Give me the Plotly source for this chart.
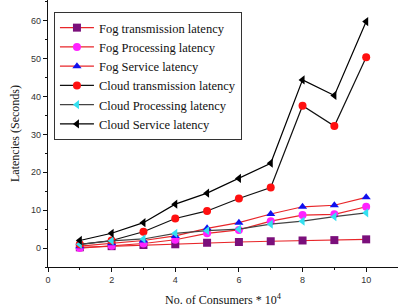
import plotly.graph_objects as go

consumers = [1, 2, 3, 4, 5, 6, 7, 8, 9, 10]
fog_transmission = [0.2, 0.5, 0.8, 1.0, 1.4, 1.6, 1.8, 2.0, 2.1, 2.3]
fog_processing = [0.0, 0.6, 1.2, 2.2, 3.9, 4.8, 7.1, 8.7, 8.9, 10.9]
fog_service = [0.5, 1.3, 2.0, 3.2, 5.2, 6.7, 9.0, 10.9, 11.3, 13.4]
cloud_transmission = [1.0, 2.0, 4.3, 7.8, 9.8, 13.1, 16.0, 37.6, 32.2, 50.4]
cloud_processing = [1.0, 1.9, 2.4, 3.9, 4.6, 5.0, 6.3, 7.1, 8.3, 9.3]
cloud_service = [2.0, 3.9, 6.7, 11.6, 14.5, 18.4, 22.4, 44.4, 40.3, 59.8]

series = [
    ("Fog transmission latency", fog_transmission, "#e8262a", "#7b0f7b", "square"),
    ("Fog Processing latency", fog_processing, "#e8262a", "#ff22ff", "circle"),
    ("Fog Service latency", fog_service, "#e8262a", "#1010ee", "triangle-up"),
    ("Cloud transmission latency", cloud_transmission, "#111111", "#ff1010", "circle"),
    ("Cloud Processing latency", cloud_processing, "#444444", "#33e0f0", "triangle-left"),
    ("Cloud Service latency", cloud_service, "#000000", "#000000", "triangle-left"),
]

fig = go.Figure()
for name, ys, lc, mc, sym in series:
    fig.add_trace(go.Scatter(
        x=consumers, y=ys, name=name, mode="lines+markers",
        line=dict(color=lc, width=1.2),
        marker=dict(symbol=sym, size=8, color=mc, line=dict(width=0)),
    ))

tickfont = dict(family="Liberation Sans, Arial", size=9, color="#333333")
fig.update_layout(
    width=398, height=308,
    margin=dict(l=48, r=0, t=0, b=41),
    plot_bgcolor="white", paper_bgcolor="white",
    showlegend=True,
    legend=dict(
        x=0.017, y=0.955, xanchor="left", yanchor="top",
        bordercolor="#333333", borderwidth=1, bgcolor="white",
        font=dict(family="Liberation Serif, Times New Roman", size=12.5, color="#111111"),
        tracegroupgap=0, itemwidth=34,
    ),
    xaxis=dict(
        range=[0, 11], tickvals=[0, 2, 4, 6, 8, 10],
        showline=True, linecolor="#111111", linewidth=1.2,
        ticks="outside", ticklen=4, tickcolor="#111111",
        minor=dict(tickvals=[1, 3, 5, 7, 9, 11], ticks="outside", ticklen=2, tickcolor="#111111"),
        showgrid=False, zeroline=False, tickfont=tickfont,
        title=dict(text="No. of Consumers * 10<sup>4</sup>",
                   font=dict(family="Liberation Serif, Times New Roman", size=12, color="#111111"),
                   standoff=11),
    ),
    yaxis=dict(
        range=[-5, 65.5], tickvals=[0, 10, 20, 30, 40, 50, 60],
        showline=True, linecolor="#111111", linewidth=1.2,
        ticks="outside", ticklen=4, tickcolor="#111111",
        minor=dict(tickvals=[-5, 5, 15, 25, 35, 45, 55, 65], ticks="outside", ticklen=2, tickcolor="#111111"),
        showgrid=False, zeroline=False, tickfont=tickfont,
        title=dict(text="Latencies (Seconds)",
                   font=dict(family="Liberation Serif, Times New Roman", size=12, color="#111111"),
                   standoff=8),
    ),
)

fig.write_html("out.html")
